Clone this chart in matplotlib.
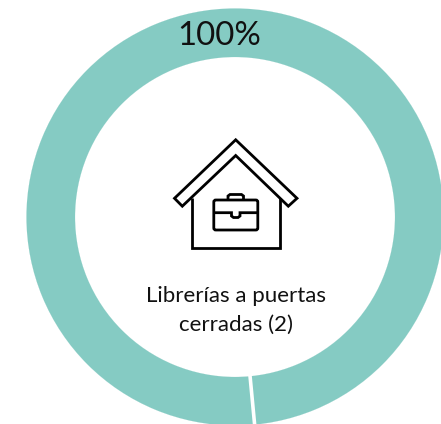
import matplotlib
matplotlib.use("Agg")
import matplotlib.pyplot as plt
from matplotlib.patches import Polygon, FancyBboxPatch
import math

shares = [100]
share_label = "100%"
center_label = ["Librerías a puertas", "cerradas (2)"]
ring = "#85CBC3"
W, H = 441, 424
fig = plt.figure(figsize=(W/100, H/100), dpi=100)
ax = fig.add_axes([0, 0, 1, 1])
Y = lambda y: H - y

seam = 275.4
cx, cy = 235, Y(217)
ax.pie(shares, colors=[ring], center=(cx, cy), radius=208.5, startangle=276,
       frame=True, wedgeprops=dict(width=48.5, edgecolor=ring, linewidth=0.1))
ax.set_xlim(0, W); ax.set_ylim(0, H); ax.set_aspect("equal"); ax.axis("off")

t = math.radians(seam)
ax.add_patch(Polygon([(cx + r*math.cos(t), cy + r*math.sin(t)) for r in (155, 215)], closed=False,
                     fill=False, edgecolor="white", linewidth=2.6, capstyle="butt", zorder=3))

lw = 2.0
k = "black"
def line(pts, closed=False):
    ax.add_patch(Polygon([(x, Y(y)) for x, y in pts], closed=closed, fill=False,
                         edgecolor=k, linewidth=lw, joinstyle="miter", capstyle="butt", zorder=4))
line([(235.7,139.8),(297,198.3),(288.3,206.2),(235.7,155.5),(182.3,206.2),(174.5,198.3)], True)
line([(191.7,198),(191.7,248.3),(280,248.3),(280,198)])
ax.add_patch(FancyBboxPatch((213.8, Y(230)), 44, 30, boxstyle="round,pad=0,rounding_size=2",
                            fill=False, edgecolor=k, linewidth=lw, zorder=4))
line([(213.8,212.7),(231.5,212.7),(231.5,216),(233.5,217.5),(238,217.5),(240,216),(240,212.7),(258,212.7)])
line([(228,200),(228,196),(230,194.5),(241.5,194.5),(243.5,196),(243.5,200)])

font = "Lato"
ax.text(219.5, Y(36), share_label, ha="center", va="center", fontsize=23.7, family=font, color="#111111", zorder=5)
ax.text(236, Y(295.5), center_label[0], ha="center", va="center", fontsize=16, family=font, color="#111111", zorder=5)
ax.text(236, Y(325), center_label[1], ha="center", va="center", fontsize=16, family=font, color="#111111", zorder=5)
fig.savefig("out.png", dpi=100)
